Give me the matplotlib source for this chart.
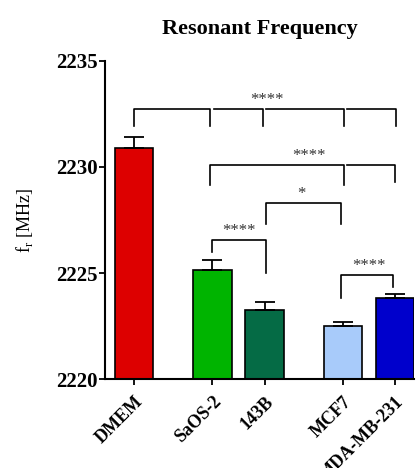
import numpy as np
import matplotlib.pyplot as plt

# Dados
grupos = ['DMEM', 'SaOS-2', '143B', 'MCF7', 'MDA-MB-231']
posicoes = [0, 1.5, 2.5, 4, 5]
media = [2230.9, 2225.15, 2223.25, 2222.5, 2223.85]
erro = [0.5, 0.47, 0.4, 0.2, 0.15]
cores = ['#dd0000', '#00b400', '#056b45', '#a8cbfa', '#0000cc']

plt.rcParams['font.family'] = ['Liberation Serif', 'DejaVu Serif']

fig = plt.figure(figsize=(4.16, 4.68), dpi=100)
ax = fig.add_axes([0.252, 0.1895, 0.743, 0.6805])

ax.bar(posicoes, media, width=0.74, bottom=0, color=cores,
       edgecolor='black', linewidth=1.2, zorder=2)
ax.errorbar(posicoes, media, yerr=[np.zeros(5), erro], fmt='none',
            ecolor='black', elinewidth=1.3, capsize=7, capthick=1.3, zorder=3)

ax.set_ylim(2220, 2235)
ax.set_xlim(-0.56, 5.36)
ax.set_yticks([2220, 2225, 2230, 2235])
ax.set_xticks(posicoes)
ax.set_xticklabels(grupos, rotation=45, ha='right', rotation_mode='anchor',
                   fontsize=13, fontweight='bold')
for lbl in ax.get_yticklabels():
    lbl.set_fontsize(15)
    lbl.set_fontweight('bold')
ax.tick_params(axis='y', length=4, width=1.3, pad=1)
ax.tick_params(axis='x', length=4, width=1.3, pad=6)
ax.spines['top'].set_visible(False)
ax.spines['right'].set_visible(False)
ax.spines['left'].set_linewidth(1.5)
ax.spines['bottom'].set_linewidth(1.5)
ax.set_ylabel('f$_\\mathregular{r}$ [MHz]', fontsize=13, labelpad=15)
ax.set_title('Resonant Frequency', fontsize=16, fontweight='bold', pad=19)

# Comparações estatísticas
def segmento(x1, x2, y, y1=None, y2=None):
    xs, ys = [x1, x2], [y, y]
    if y1 is not None:
        xs, ys = [x1] + xs, [y1] + ys
    if y2 is not None:
        xs, ys = xs + [x2], ys + [y2]
    ax.plot(xs, ys, color='black', lw=1.2, clip_on=False, zorder=4)

estrela = dict(ha='center', va='bottom', fontsize=12, color='#333333')

# DMEM vs todos
segmento(0.0, 1.45, 2232.74, 2231.95, 2231.95)
segmento(1.53, 2.47, 2232.74, None, 2231.95)
segmento(2.52, 4.02, 2232.74, None, 2231.95)
segmento(4.07, 5.02, 2232.74, None, 2231.95)
ax.text(2.55, 2232.8, '****', **estrela)

# SaOS-2 vs MCF7 e MDA
segmento(1.45, 4.02, 2230.09, 2229.17, 2229.17)
segmento(4.07, 5.0, 2230.09, None, 2229.3)
ax.text(3.35, 2230.15, '****', **estrela)

# 143B vs MCF7
segmento(2.52, 3.97, 2228.3, 2227.31, 2227.31)
ax.text(3.2, 2228.35, '*', **estrela)

# SaOS-2 vs 143B
segmento(1.5, 2.52, 2226.54, 2225.99, 2225.0)
ax.text(2.0, 2226.6, '****', **estrela)

# MCF7 vs MDA
segmento(3.97, 4.96, 2224.89, 2223.82, 2224.37)
ax.text(4.5, 2224.95, '****', **estrela)

fig.savefig('out.png', dpi=100)
